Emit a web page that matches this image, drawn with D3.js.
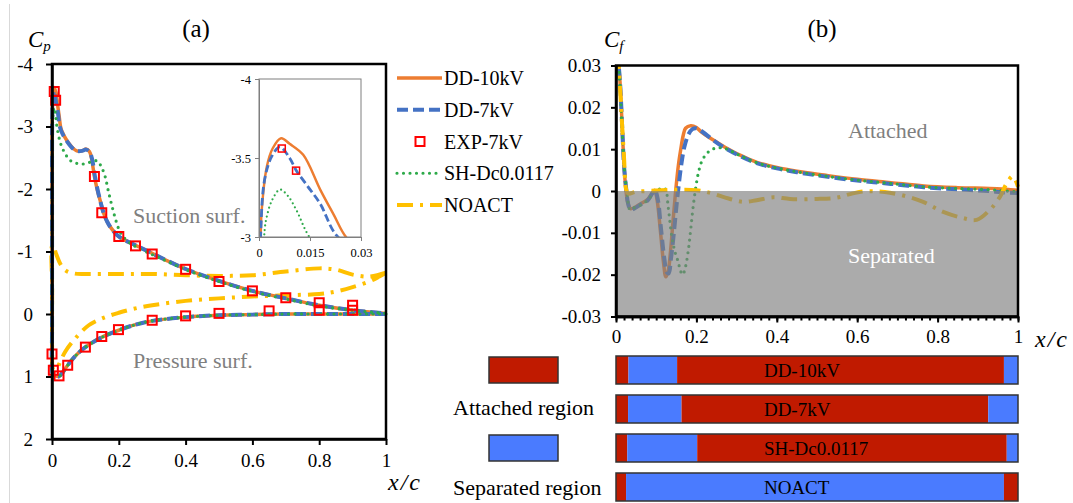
<!DOCTYPE html>
<html>
<head>
<meta charset="utf-8">
<script src="https://cdn.jsdelivr.net/npm/d3@7"></script>
<style>
body { margin: 0; background: #fff; }
svg { display: block; font-family: 'Liberation Serif', 'DejaVu Serif', serif; }
svg text { font-family: 'Liberation Serif', 'DejaVu Serif', serif; }
</style>
</head>
<body>
<div id="chart"></div>
<script>
// ---------------- data : (a) Cp ----------------
const seriesNames = ["DD-10kV", "DD-7kV", "EXP-7kV", "SH-Dc0.0117", "NOACT"];

// pressure side, leading edge -> trailing edge  [x/c, Cp]
const cpPreDD10 = [[0.0002,0.2],[0.001,0.93],[0.004,0.97],[0.01,0.99],[0.02,1.0],[0.03,0.95],[0.04,0.87],[0.05,0.8],[0.07,0.67],[0.1,0.53],[0.15,0.37],[0.2,0.26],[0.25,0.17],[0.3,0.11],[0.4,0.05],[0.5,0.02],[0.6,0.01],[0.7,0.0],[0.8,0.0],[0.9,0.0],[1,0.0]];
const cpPreDD7 = [[0.0002,0.2],[0.001,0.93],[0.004,0.97],[0.01,0.99],[0.02,1.0],[0.03,0.95],[0.04,0.87],[0.05,0.8],[0.07,0.67],[0.1,0.53],[0.15,0.37],[0.2,0.26],[0.25,0.17],[0.3,0.11],[0.4,0.05],[0.5,0.02],[0.6,0.01],[0.7,0.0],[0.8,0.0],[0.9,0.0],[1,0.0]];
const cpPreSH = [[0.0002,0.2],[0.001,0.92],[0.004,0.97],[0.01,0.99],[0.02,1.0],[0.03,0.95],[0.04,0.87],[0.05,0.8],[0.07,0.67],[0.1,0.53],[0.15,0.37],[0.2,0.26],[0.25,0.17],[0.3,0.11],[0.4,0.05],[0.5,0.02],[0.6,0.01],[0.7,0.0],[0.8,0.0],[0.9,0.0],[1,0.0]];
const cpPreNoact = [[0.0005,0.6],[0.003,0.88],[0.01,0.9],[0.018,0.84],[0.025,0.76],[0.04,0.6],[0.07,0.39],[0.11,0.18],[0.15,0.07],[0.2,-0.02],[0.25,-0.09],[0.3,-0.14],[0.4,-0.21],[0.5,-0.25],[0.6,-0.28],[0.7,-0.3],[0.8,-0.32],[0.85,-0.36],[0.9,-0.43],[0.95,-0.52],[0.98,-0.6],[1,-0.66]];

// suction side, leading edge -> trailing edge
const cpSucDD10 = [[0.0002,-1.0],[0.0005,-3.0],[0.0008,-3.17],[0.0023,-3.445],[0.004,-3.56],[0.0065,-3.625],[0.009,-3.59],[0.013,-3.52],[0.018,-3.3],[0.022,-3.14],[0.0256,-3.0],[0.03,-2.92],[0.044,-2.78],[0.06,-2.67],[0.074,-2.61],[0.09,-2.61],[0.102,-2.64],[0.112,-2.6],[0.118,-2.5],[0.127,-2.2],[0.135,-2.0],[0.144,-1.82],[0.154,-1.62],[0.165,-1.48],[0.175,-1.39],[0.2,-1.24],[0.25,-1.1],[0.3,-0.97],[0.35,-0.84],[0.4,-0.72],[0.5,-0.53],[0.6,-0.37],[0.7,-0.25],[0.8,-0.14],[0.9,-0.06],[1,-0.01]];
const cpSucDD7 = [[0.0002,-1.0],[0.0005,-3.02],[0.0018,-3.38],[0.004,-3.52],[0.0062,-3.57],[0.009,-3.5],[0.011,-3.42],[0.014,-3.33],[0.018,-3.21],[0.0228,-3.01],[0.03,-2.9],[0.044,-2.77],[0.06,-2.66],[0.074,-2.61],[0.09,-2.61],[0.102,-2.63],[0.113,-2.59],[0.12,-2.48],[0.128,-2.22],[0.136,-2.0],[0.145,-1.8],[0.155,-1.61],[0.165,-1.48],[0.175,-1.39],[0.2,-1.24],[0.25,-1.1],[0.3,-0.97],[0.35,-0.84],[0.4,-0.72],[0.5,-0.53],[0.6,-0.37],[0.7,-0.25],[0.8,-0.14],[0.9,-0.06],[1,-0.01]];
const cpSucSH = [[0.0002,-1.0],[0.0015,-3.0],[0.0023,-3.13],[0.004,-3.24],[0.0062,-3.3],[0.0085,-3.26],[0.011,-3.17],[0.0148,-3.0],[0.024,-2.76],[0.034,-2.62],[0.054,-2.46],[0.075,-2.41],[0.094,-2.4],[0.115,-2.43],[0.135,-2.45],[0.149,-2.34],[0.159,-2.2],[0.169,-1.96],[0.179,-1.74],[0.19,-1.52],[0.2,-1.36],[0.21,-1.26],[0.23,-1.15],[0.25,-1.08],[0.3,-0.95],[0.35,-0.83],[0.4,-0.71],[0.5,-0.52],[0.6,-0.36],[0.7,-0.24],[0.8,-0.13],[0.9,-0.06],[1,-0.01]];
const cpSucNoact = [[0.0005,-0.4],[0.001,-1.1],[0.005,-1.1],[0.01,-1.0],[0.014,-0.94],[0.025,-0.8],[0.04,-0.7],[0.064,-0.65],[0.1,-0.64],[0.2,-0.64],[0.3,-0.64],[0.4,-0.62],[0.5,-0.61],[0.6,-0.62],[0.7,-0.68],[0.8,-0.73],[0.85,-0.71],[0.9,-0.63],[0.95,-0.6],[1,-0.66]];

// experiment (squares)
const cpExpSuc = [[0.0067,-3.56],[0.0109,-3.42],[0.127,-2.2],[0.149,-1.62],[0.2,-1.24],[0.25,-1.09],[0.3,-0.96],[0.4,-0.715],[0.5,-0.52],[0.6,-0.37],[0.7,-0.26],[0.8,-0.18],[0.9,-0.14]];
const cpExpPre = [[0.0,0.64],[0.004,0.9],[0.021,0.99],[0.047,0.82],[0.1,0.53],[0.149,0.36],[0.199,0.25],[0.3,0.1],[0.4,0.03],[0.5,-0.01],[0.65,-0.05],[0.8,-0.06],[0.9,-0.06]];

const xTicksA = [0, 0.2, 0.4, 0.6, 0.8, 1];
const yTicksA = [-4, -3, -2, -1, 0, 1, 2];
const xTicksInset = [0, 0.015, 0.03];
const yTicksInset = [-4, -3.5, -3];

// ---------------- data : (b) Cf ----------------
const cfDD10 = [[0.004,0.033],[0.01,0.026],[0.016,0.014],[0.02,0.006],[0.025,0],[0.03,-0.003],[0.036,-0.0042],[0.045,-0.004],[0.062,-0.003],[0.079,-0.002],[0.09,-0.0005],[0.096,0.0002],[0.102,-0.002],[0.111,-0.0101],[0.118,-0.017],[0.124,-0.0205],[0.13,-0.019],[0.136,-0.014],[0.142,-0.007],[0.148,-0.0004],[0.155,0.006],[0.161,0.0099],[0.167,0.0132],[0.173,0.015],[0.186,0.0156],[0.2,0.0152],[0.211,0.0142],[0.24,0.0123],[0.269,0.0106],[0.31,0.0085],[0.352,0.0068],[0.4,0.0056],[0.45,0.0047],[0.518,0.0038],[0.6,0.0028],[0.684,0.002],[0.766,0.0012],[0.85,0.0008],[0.93,0.0006],[0.97,0.0004],[1,0.0002]];
const cfDD7 = [[0.004,0.033],[0.01,0.026],[0.016,0.014],[0.02,0.006],[0.026,0],[0.03,-0.003],[0.036,-0.0045],[0.045,-0.0042],[0.062,-0.0032],[0.079,-0.0022],[0.09,-0.0006],[0.097,0.0001],[0.104,-0.002],[0.112,-0.009],[0.12,-0.016],[0.127,-0.0195],[0.131,-0.0197],[0.137,-0.016],[0.144,-0.01],[0.15,-0.004],[0.155,0.0005],[0.162,0.006],[0.17,0.0105],[0.18,0.0135],[0.19,0.0148],[0.199,0.015],[0.21,0.0145],[0.24,0.0123],[0.269,0.0104],[0.31,0.0083],[0.352,0.0066],[0.4,0.0054],[0.45,0.0045],[0.518,0.0035],[0.6,0.0025],[0.684,0.0017],[0.766,0.0009],[0.85,0.0004],[0.926,0],[0.96,-0.0003],[1,-0.0005]];
const cfSH = [[0.004,0.033],[0.01,0.025],[0.016,0.013],[0.022,0.004],[0.027,0],[0.035,-0.0045],[0.045,-0.004],[0.068,-0.003],[0.085,-0.0015],[0.097,0.0002],[0.11,0.0005],[0.122,0.0006],[0.13,-0.004],[0.139,-0.011],[0.148,-0.015],[0.155,-0.017],[0.16,-0.019],[0.166,-0.02],[0.172,-0.0185],[0.18,-0.0141],[0.186,-0.009],[0.192,-0.0037],[0.2,0.0018],[0.206,0.0048],[0.213,0.007],[0.226,0.009],[0.246,0.0102],[0.27,0.0102],[0.31,0.0084],[0.352,0.0067],[0.4,0.0055],[0.45,0.0046],[0.518,0.0036],[0.6,0.0026],[0.684,0.0018],[0.766,0.001],[0.85,0.0006],[0.93,0.0003],[0.972,0],[1,-0.0002]];
const cfNoact = [[0.004,0.033],[0.008,0.028],[0.014,0.0178],[0.02,0.008],[0.025,0.0005],[0.03,-0.0006],[0.05,-0.0002],[0.1,0.0001],[0.15,0.0003],[0.2,0.0002],[0.24,-0.0006],[0.28,-0.0018],[0.317,-0.0026],[0.35,-0.0022],[0.391,-0.0015],[0.433,-0.0019],[0.5,-0.0019],[0.549,-0.0016],[0.58,-0.0008],[0.615,-0.0001],[0.65,-0.0001],[0.681,-0.0004],[0.723,-0.0013],[0.764,-0.0026],[0.814,-0.005],[0.864,-0.0065],[0.897,-0.0069],[0.93,-0.0045],[0.955,-0.0014],[0.97,0.0015],[0.987,0.0035],[1,0.001]];

const xTicksB = [0, 0.2, 0.4, 0.6, 0.8, 1];
const yTicksB = [0.03, 0.02, 0.01, 0, -0.01, -0.02, -0.03];

// attached / separated regions along the chord
const barCases = ["DD-10kV", "DD-7kV", "SH-Dc0.0117", "NOACT"];
const barEdges = [
	[0, 0.031, 0.152, 0.965, 1],
	[0, 0.030, 0.163, 0.926, 1],
	[0, 0.028, 0.202, 0.972, 1],
	[0, 0.025, 0.965, 1]
];
const barStates = [
	["att", "sep", "att", "sep"],
	["att", "sep", "att", "sep"],
	["att", "sep", "att", "sep"],
	["att", "sep", "att"]
];

// ---------------- styles ----------------
const style = {
	"DD-10kV":     {color: '#ED7D31', width: 3.5, dash: null, cap: 'butt'},
	"DD-7kV":      {color: '#4472C4', width: 4, dash: '11,5', cap: 'butt'},
	"SH-Dc0.0117": {color: '#2EAA4A', width: 3.2, dash: '0,6.5', cap: 'round'},
	"NOACT":       {color: '#FFC000', width: 4, dash: '16,7,3,7', cap: 'butt'}
};
const regionColor = {att: '#C01A00', sep: '#4A7BFF'};
const serif = "'Liberation Serif', 'DejaVu Serif', serif";

const svg = d3.select('#chart').append('svg')
	.attr('width', 1073)
	.attr('height', 503);

svg.append('line')
	.attr('x1', 9.5).attr('x2', 9.5).attr('y1', 4).attr('y2', 503)
	.attr('stroke', '#d9d9d9').attr('stroke-width', 1);

const defs = svg.append('defs');

function applyStyle(sel, name, scale) {
	let s = style[name];
	let k = scale || 1;
	sel.attr('fill', 'none')
	.attr('stroke', s.color)
	.attr('stroke-width', s.width * k)
	.attr('stroke-linecap', s.cap)
	.attr('stroke-linejoin', 'round')
	.attr('stroke-dasharray', s.dash ? s.dash.split(',').map(v => +v * k).join(',') : null);
}

function styleAxis(g, size, color) {
	g.attr('font-family', serif).attr('font-size', size);
	g.select('.domain').attr('stroke', color).attr('stroke-width', color == '#000' ? 2.5 : 1);
	g.selectAll('.tick line').attr('stroke', color).attr('stroke-width', color == '#000' ? 2 : 1);
	g.selectAll('.tick text').attr('fill', '#000').style('font-family', serif);
}

//--------------------------------------------------------------
// (a) pressure coefficient
//--------------------------------------------------------------
const xA = d3.scaleLinear().domain([0, 1]).range([52, 386]);
const yA = d3.scaleLinear().domain([-4, 2]).range([64, 439]);

defs.append('clipPath').attr('id', 'clipA').append('rect')
	.attr('x', xA(0) - 6).attr('y', yA(-4)).attr('width', xA(1) - xA(0) + 12).attr('height', yA(2) - yA(-4));

const lineA = d3.line()
	.x(d => xA(d[0]))
	.y(d => yA(d[1]))
	.curve(d3.curveCatmullRom.alpha(0.5));

const cpLoops = [
	{name: "NOACT", pre: cpPreNoact, suc: cpSucNoact},
	{name: "DD-10kV", pre: cpPreDD10, suc: cpSucDD10},
	{name: "DD-7kV", pre: cpPreDD7, suc: cpSucDD7},
	{name: "SH-Dc0.0117", pre: cpPreSH, suc: cpSucSH}
];

const plotA = svg.append('g').attr('clip-path', 'url(#clipA)');

cpLoops.forEach(e => {
	let loop = e.pre.slice().reverse().concat(e.suc);
	plotA.append('path')
	.attr('d', lineA(loop))
	.call(applyStyle, e.name);
});

plotA.selectAll('.expA')
	.data(cpExpSuc.concat(cpExpPre))
	.enter().append('rect')
	.attr('class', 'expA')
	.attr('x', d => xA(d[0]) - 4.5)
	.attr('y', d => yA(d[1]) - 4.5)
	.attr('width', 9)
	.attr('height', 9)
	.attr('fill', 'none')
	.attr('stroke', '#FF0000')
	.attr('stroke-width', 2);

svg.append('g')
	.attr('transform', `translate(0,${yA(2)})`)
	.call(d3.axisBottom(xA).tickValues(xTicksA).tickFormat(d => String(d)).tickSize(6).tickSizeOuter(0).tickPadding(9))
	.call(styleAxis, 19, '#000');

svg.append('g')
	.attr('transform', `translate(${xA(0)},0)`)
	.call(d3.axisLeft(yA).tickValues(yTicksA).tickFormat(d => String(d)).tickSize(6).tickSizeOuter(0).tickPadding(13))
	.call(styleAxis, 19, '#000');

svg.append('rect')
	.attr('x', xA(0)).attr('y', yA(-4))
	.attr('width', xA(1) - xA(0)).attr('height', yA(2) - yA(-4))
	.attr('fill', 'none').attr('stroke', '#000').attr('stroke-width', 2.5);

svg.append('text').attr('x', 196).attr('y', 37).attr('text-anchor', 'middle')
	.attr('font-size', 25).text('(a)');

let cp = svg.append('text').attr('x', 28).attr('y', 47).attr('font-style', 'italic').attr('font-size', 23);
cp.append('tspan').text('C');
cp.append('tspan').attr('font-size', 15).attr('dy', 4).text('p');

svg.append('text').attr('x', 388).attr('y', 490).attr('font-style', 'italic')
	.attr('font-size', 24).attr('letter-spacing', 2).text('x/c');

svg.append('text').attr('x', 133).attr('y', 223).attr('font-size', 22)
	.attr('fill', '#7F7F7F').text('Suction surf.');
svg.append('text').attr('x', 133).attr('y', 368).attr('font-size', 22)
	.attr('fill', '#7F7F7F').text('Pressure surf.');

//------------------ inset ------------------
const xI = d3.scaleLinear().domain([0, 0.03]).range([259, 361]);
const yI = d3.scaleLinear().domain([-4, -3]).range([79, 237]);

defs.append('clipPath').attr('id', 'clipI').append('rect')
	.attr('x', xI(0)).attr('y', yI(-4)).attr('width', xI(0.03) - xI(0)).attr('height', yI(-3) - yI(-4));

svg.append('rect')
	.attr('x', xI(0)).attr('y', yI(-4))
	.attr('width', xI(0.03) - xI(0)).attr('height', yI(-3) - yI(-4))
	.attr('fill', '#fff');

const lineI = d3.line()
	.x(d => xI(d[0]))
	.y(d => yI(d[1]))
	.curve(d3.curveCatmullRom.alpha(0.5));

const plotI = svg.append('g').attr('clip-path', 'url(#clipI)');
cpLoops.filter(e => e.name != "NOACT").forEach(e => {
	plotI.append('path')
	.attr('d', lineI(e.suc))
	.call(applyStyle, e.name, 0.7);
});

plotI.selectAll('.expI')
	.data(cpExpSuc)
	.enter().append('rect')
	.attr('class', 'expI')
	.attr('x', d => xI(d[0]) - 3.5)
	.attr('y', d => yI(d[1]) - 3.5)
	.attr('width', 7)
	.attr('height', 7)
	.attr('fill', 'none')
	.attr('stroke', '#FF0000')
	.attr('stroke-width', 1.5);

svg.append('rect')
	.attr('x', xI(0)).attr('y', yI(-4))
	.attr('width', xI(0.03) - xI(0)).attr('height', yI(-3) - yI(-4))
	.attr('fill', 'none').attr('stroke', '#7F7F7F').attr('stroke-width', 1);

svg.append('g')
	.attr('transform', `translate(0,${yI(-3)})`)
	.call(d3.axisBottom(xI).tickValues(xTicksInset).tickFormat(d => String(d)).tickSize(4).tickSizeOuter(0).tickPadding(7))
	.call(styleAxis, 12.5, '#7F7F7F');

svg.append('g')
	.attr('transform', `translate(${xI(0)},0)`)
	.call(d3.axisLeft(yI).tickValues(yTicksInset).tickFormat(d => String(d)).tickSize(4).tickSizeOuter(0).tickPadding(4))
	.call(styleAxis, 12.5, '#7F7F7F');

//------------------ legend ------------------
const legend = svg.append('g').attr('transform', 'translate(397,0)');
const legendY = d3.scalePoint().domain(seriesNames).range([78, 205]);

seriesNames.forEach(name => {
	let y = legendY(name);
	if (name == "EXP-7kV") {
		legend.append('rect')
		.attr('x', 18.5).attr('y', y - 4.5).attr('width', 9).attr('height', 9)
		.attr('fill', '#fff').attr('stroke', '#FF0000').attr('stroke-width', 2);
	}
	else {
		legend.append('line')
		.attr('x1', 0).attr('x2', 45).attr('y1', y).attr('y2', y)
		.call(applyStyle, name);
	}
	legend.append('text')
	.attr('x', 47).attr('y', y).attr('dy', '0.35em')
	.attr('font-size', 20)
	.text(name);
});

//--------------------------------------------------------------
// (b) skin friction coefficient
//--------------------------------------------------------------
const xB = d3.scaleLinear().domain([0, 1]).range([616, 1018]);
const yB = d3.scaleLinear().domain([-0.03, 0.03]).range([316.5, 65.5]);

defs.append('clipPath').attr('id', 'clipB').append('rect')
	.attr('x', xB(0)).attr('y', yB(0.03)).attr('width', xB(1) - xB(0) + 4).attr('height', yB(-0.03) - yB(0.03));

const lineB = d3.line()
	.x(d => xB(d[0]))
	.y(d => yB(d[1]))
	.curve(d3.curveCatmullRom.alpha(0.5));

const plotB = svg.append('g').attr('clip-path', 'url(#clipB)');

[["DD-10kV", cfDD10], ["DD-7kV", cfDD7], ["SH-Dc0.0117", cfSH], ["NOACT", cfNoact]].forEach(e => {
	plotB.append('path')
	.attr('d', lineB(e[1]))
	.call(applyStyle, e[0]);
});

// separated zone shading (translucent, lines show through)
svg.append('rect')
	.attr('x', xB(0)).attr('y', yB(0))
	.attr('width', xB(1) - xB(0)).attr('height', yB(-0.03) - yB(0))
	.attr('fill', '#808080').attr('fill-opacity', 0.66);

// minor ticks every 0.02
svg.append('g')
	.attr('transform', `translate(0,${yB(-0.03)})`)
	.call(d3.axisBottom(xB).ticks(50).tickFormat('').tickSize(4).tickSizeOuter(0))
	.call(styleAxis, 19, '#000');

svg.append('g')
	.attr('transform', `translate(0,${yB(-0.03)})`)
	.call(d3.axisBottom(xB).tickValues(xTicksB).tickFormat(d => String(d)).tickSize(6).tickSizeOuter(0).tickPadding(7))
	.call(styleAxis, 19, '#000');

svg.append('g')
	.attr('transform', `translate(${xB(0)},0)`)
	.call(d3.axisLeft(yB).tickValues(yTicksB).tickFormat(d => String(d)).tickSize(5).tickSizeOuter(0).tickPadding(10))
	.call(styleAxis, 19, '#000');

svg.append('rect')
	.attr('x', xB(0)).attr('y', yB(0.03))
	.attr('width', xB(1) - xB(0)).attr('height', yB(-0.03) - yB(0.03))
	.attr('fill', 'none').attr('stroke', '#000').attr('stroke-width', 2.5);

svg.append('text').attr('x', 822).attr('y', 37).attr('text-anchor', 'middle')
	.attr('font-size', 25).text('(b)');

let cf = svg.append('text').attr('x', 604).attr('y', 47).attr('font-style', 'italic').attr('font-size', 23);
cf.append('tspan').text('C');
cf.append('tspan').attr('font-size', 15).attr('dy', 4).text('f');

svg.append('text').attr('x', 1035).attr('y', 347).attr('font-style', 'italic')
	.attr('font-size', 24).attr('letter-spacing', 2).text('x/c');

svg.append('text').attr('x', 848).attr('y', 138).attr('font-size', 22)
	.attr('fill', '#7F7F7F').text('Attached');
svg.append('text').attr('x', 848).attr('y', 263).attr('font-size', 22)
	.attr('fill', '#fff').text('Separated');

//------------------ attached / separated bars ------------------
const yBar = d3.scaleBand().domain(barCases).range([356, 501]).paddingInner(0.282).paddingOuter(0);

barCases.forEach((name, i) => {
	let y = yBar(name);
	let h = yBar.bandwidth();
	barStates[i].forEach((state, j) => {
		svg.append('rect')
		.attr('x', xB(barEdges[i][j]))
		.attr('y', y)
		.attr('width', xB(barEdges[i][j + 1]) - xB(barEdges[i][j]))
		.attr('height', h)
		.attr('fill', regionColor[state]);
	});
	svg.append('rect')
	.attr('x', xB(0)).attr('y', y)
	.attr('width', xB(1) - xB(0)).attr('height', h)
	.attr('fill', 'none').attr('stroke', '#333').attr('stroke-width', 1.5);
	svg.append('text')
	.attr('x', xB(0.368)).attr('y', y + h / 2).attr('dy', '0.35em')
	.attr('font-size', 19)
	.text(name);
});

// region legend
[["att", barCases[0], "Attached region", 415], ["sep", barCases[2], "Separated region", 495]].forEach(e => {
	svg.append('rect')
	.attr('x', 489).attr('y', yBar(e[1]) + 1)
	.attr('width', 69).attr('height', yBar.bandwidth() - 2)
	.attr('fill', regionColor[e[0]]).attr('stroke', '#333').attr('stroke-width', 1.5);
	svg.append('text')
	.attr('x', 453).attr('y', e[3])
	.attr('font-size', 22)
	.text(e[2]);
});
</script>
</body>
</html>
